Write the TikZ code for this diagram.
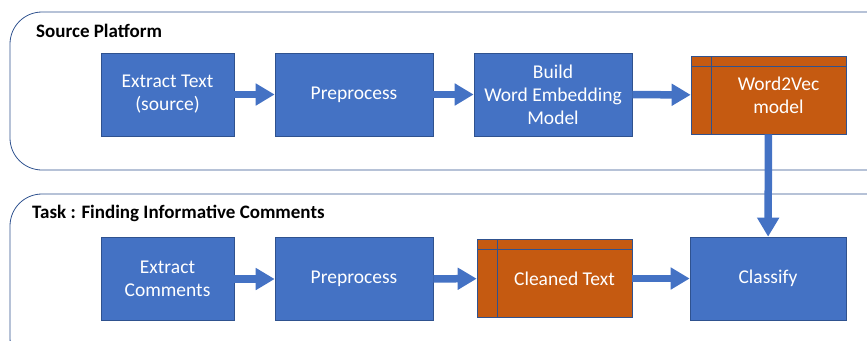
\documentclass[tikz,border=0pt]{standalone}
\usepackage{fontspec}
\setmainfont{Carlito}
\usetikzlibrary{arrows.meta,positioning}

\definecolor{boxblue}{RGB}{68,114,196}
\definecolor{boxedge}{RGB}{47,82,143}
\definecolor{storeorange}{RGB}{197,90,17}
\definecolor{frameline}{RGB}{47,82,143}

\tikzset{
procbox/.style={rectangle, fill=boxblue, draw=boxedge, line width=0.6pt, text=white,
  align=center, inner sep=0pt, minimum width=#1, minimum height=83pt,
  font=\fontsize{19.5}{23}\selectfont},
procbox/.default={158pt},
storebox/.style={procbox=155pt, fill=storeorange, minimum height=78pt,
  path picture={
    \draw[boxedge, line width=0.6pt]
      ([yshift=-10pt]path picture bounding box.north west) -- ([yshift=-10pt]path picture bounding box.north east)
      ([xshift=20pt]path picture bounding box.north west) -- ([xshift=20pt]path picture bounding box.south west);
  }},
blockarrow/.style={draw=boxblue, line width=7.5pt, -{Triangle[length=19pt,width=21pt]}},
platform/.style={draw=frameline, line width=0.8pt, rounded corners=32pt},
heading/.style={anchor=west, inner sep=0pt, font=\fontsize{19}{22}\selectfont\bfseries}
}

\begin{document}
\begin{tikzpicture}[x=1pt,y=-1pt]

\useasboundingbox (0,0) rectangle (867,340);
\clip (0,0) rectangle (867,340);

% the two platform frames
\draw[platform] (10,12) rectangle (900,170);
\draw[platform] (10,194) rectangle (900,370);

\node[heading] (srctitle) at (36,31) {Source Platform};
\node[heading] (tasktitle) at (32,213) {Task : Finding Informative Comments};

% source platform
\node[procbox=133pt] (srcextract) at (167.5,94.5) {Extract Text\\(source)};
\node[procbox] (srcprep) at (354,94.5) {Preprocess};
\node[procbox] (srcbuild) at (553,94.5) {Build\\Word Embedding\\Model};
\node[storebox] (wvmodel) at (768.5,95) {\hspace*{20pt}Word2Vec\\\hspace*{20pt}model};

% task
\node[procbox=133pt] (taskextract) at (167.5,279) {Extract\\Comments};
\node[procbox] (taskprep) at (354,279) {Preprocess};
\node[storebox] (cleaned) at (554.5,278.5) {\hspace*{20pt}Cleaned Text};
\node[procbox=156pt] (classify) at (768,278.5) {Classify};

\draw[blockarrow] (srcextract) -- (srcprep);
\draw[blockarrow] (srcprep) -- (srcbuild);
\draw[blockarrow] (srcbuild) -- (wvmodel);
\draw[blockarrow] (wvmodel) -- (classify);

\draw[blockarrow] (taskextract) -- (taskprep);
\draw[blockarrow] (taskprep) -- (cleaned);
\draw[blockarrow] (cleaned) -- (classify);

\end{tikzpicture}
\end{document}
